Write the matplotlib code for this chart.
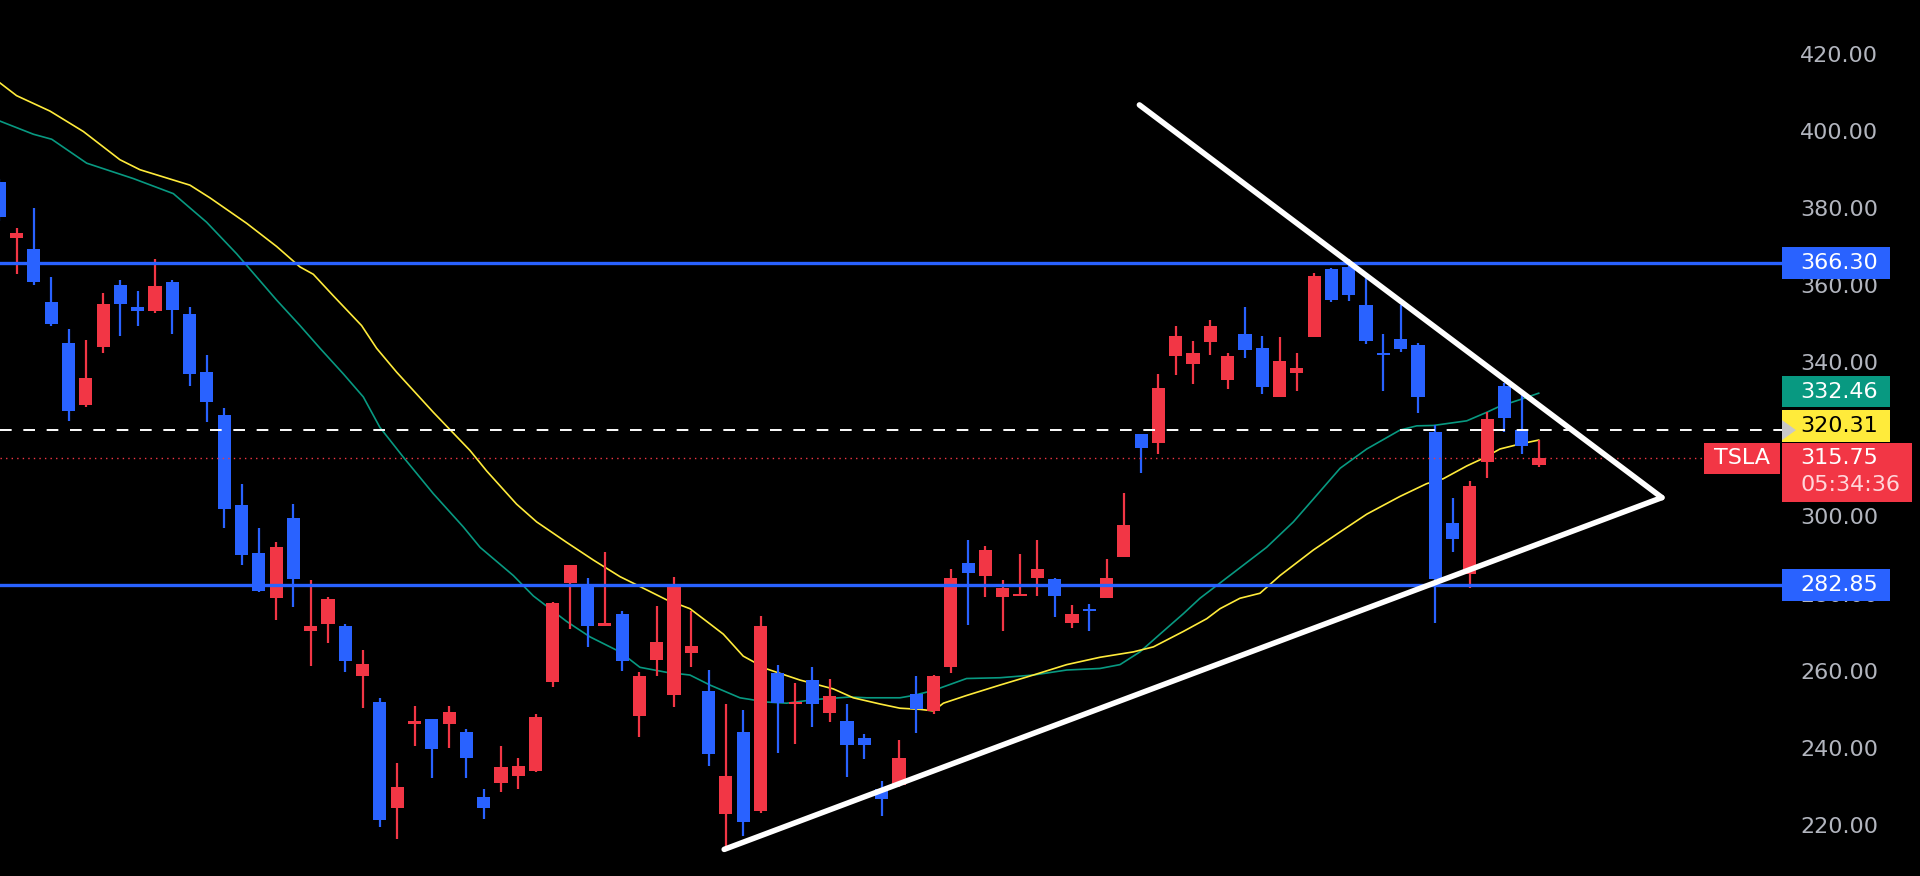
import matplotlib
matplotlib.use("Agg")
import matplotlib.pyplot as plt
import matplotlib.transforms as mtransforms
from matplotlib.patches import Rectangle, Polygon

# daily candles, index 0 is the half-visible one at the left edge
# red = up day, blue = down day (chart uses inverted colours)
opens = [387.1, 372.8, 369.9, 356.0, 345.4, 329.3, 344.5, 360.6, 354.8, 353.7,
         361.3, 353.1, 337.9, 326.9, 303.5, 291.0, 279.3, 300.2, 270.7, 272.6,
         272.0, 259.1, 252.4, 225.0, 246.8, 247.9, 246.8, 244.6, 227.9, 231.4,
         233.1, 234.5, 257.7, 283.2, 282.6, 272.0, 275.3, 248.8, 263.4, 254.1,
         265.0, 255.2, 223.4, 244.7, 224.1, 259.8, 251.9, 258.1, 249.5, 247.4,
         243.1, 229.9, 231.0, 254.4, 250.1, 261.4, 288.5, 285.2, 279.6, 279.8,
         284.5, 284.3, 273.0, 276.6, 279.3, 290.0, 321.9, 319.6, 342.1, 340.1,
         345.8, 335.9, 347.8, 344.3, 331.5, 337.7, 347.1, 364.6, 365.2, 355.3,
         343.0, 346.5, 345.0, 322.5, 298.7, 285.6, 314.6, 334.4, 322.9, 313.9]
highs = [388.0, 375.2, 380.5, 362.6, 349.1, 346.3, 358.4, 361.9, 359.0, 367.2,
         361.9, 354.9, 342.4, 328.6, 309.0, 297.4, 293.8, 303.7, 284.1, 279.6,
         272.6, 266.0, 253.5, 236.7, 251.5, 247.9, 251.3, 245.3, 229.9, 241.0,
         237.8, 249.2, 278.3, 287.9, 284.5, 291.4, 275.9, 260.1, 277.3, 284.8,
         275.9, 260.7, 251.9, 250.4, 274.6, 262.1, 257.4, 261.4, 258.5, 251.9,
         244.2, 232.0, 242.6, 259.1, 259.4, 286.8, 294.5, 292.9, 284.1, 290.8,
         294.5, 284.5, 277.5, 277.7, 289.4, 306.6, 321.9, 337.5, 350.0, 346.1,
         351.4, 342.8, 354.9, 347.4, 347.0, 343.0, 363.5, 364.8, 367.2, 363.5,
         347.8, 355.3, 345.4, 324.2, 305.3, 309.7, 327.5, 335.2, 332.2, 320.3]
lows = [377.0, 363.3, 360.4, 350.0, 325.2, 328.9, 342.8, 347.4, 350.0, 353.3,
        347.8, 334.4, 324.9, 297.4, 287.9, 280.8, 273.6, 277.0, 261.7, 267.7,
        260.1, 250.8, 220.1, 216.8, 240.9, 232.7, 240.6, 232.7, 222.1, 229.2,
        229.9, 234.3, 256.4, 271.3, 266.7, 272.0, 260.5, 243.3, 259.1, 251.2,
        261.4, 235.9, 213.8, 217.7, 223.7, 239.3, 241.5, 245.9, 247.2, 233.0,
        237.6, 222.8, 230.3, 244.5, 249.2, 259.8, 272.4, 279.6, 270.9, 279.8,
        279.9, 274.4, 271.6, 270.9, 279.3, 290.0, 311.7, 316.7, 337.1, 334.8,
        342.4, 333.5, 341.7, 332.2, 331.5, 333.1, 347.1, 356.0, 356.3, 345.1,
        333.1, 343.2, 327.3, 273.0, 291.2, 281.9, 310.6, 322.5, 316.7, 313.4]
closes = [378.1, 374.1, 361.3, 350.4, 327.9, 336.4, 355.7, 355.6, 353.9, 360.2,
          354.0, 337.5, 330.2, 302.4, 290.5, 281.2, 292.7, 284.3, 272.0, 279.0,
          263.1, 262.3, 221.7, 230.3, 247.6, 240.2, 249.7, 237.8, 225.0, 235.5,
          235.9, 248.4, 278.1, 287.9, 272.0, 272.9, 263.1, 259.1, 268.0, 282.6,
          266.9, 238.9, 233.1, 221.3, 272.0, 252.1, 252.4, 251.9, 254.0, 241.3,
          241.2, 227.3, 237.8, 250.5, 259.1, 284.5, 285.9, 291.8, 281.9, 280.3,
          286.9, 279.9, 275.3, 275.9, 284.5, 298.2, 318.3, 333.8, 347.4, 342.8,
          350.0, 342.1, 343.7, 334.2, 340.8, 339.1, 362.9, 356.6, 358.0, 346.1,
          342.4, 343.8, 331.5, 284.3, 294.7, 308.4, 325.8, 326.0, 318.7, 315.75]

# moving averages (candle index, price)
ma_fast_x = [0.04, 1.0, 2.93, 4.86, 6.97, 8.13, 11.02, 12.18, 14.3, 16.03, 17.38,
             18.15, 19.31, 20.94, 21.81, 22.97, 25.09, 27.21, 28.17, 29.9, 31.06,
             32.79, 34.34, 35.88, 36.65, 38.57, 39.92, 40.89, 41.85, 43.0, 44.35,
             46.28, 48.21, 49.36, 50.9, 52.06, 53.22, 53.99, 54.57, 55.91, 57.84,
             59.77, 61.7, 63.62, 65.55, 66.71, 68.44, 69.79, 70.56, 71.71, 72.87,
             74.03, 75.95, 77.5, 79.04, 80.96, 82.5, 83.47, 84.82, 85.78, 86.74,
             87.9, 88.98]
ma_fast_y = [412.9, 409.6, 405.6, 400.3, 393.0, 390.4, 386.4, 383.1, 376.5, 370.5, 365.2,
             363.3, 357.7, 350.0, 344.1, 337.9, 327.5, 317.6, 312.3, 303.7, 299.1,
             293.8, 289.2, 284.9, 283.2, 278.9, 276.6, 273.3, 270.0, 264.3, 261.0,
             258.1, 255.8, 253.5, 251.9, 250.8, 250.5, 250.1, 252.1, 254.1, 256.8,
             259.4, 262.1, 264.0, 265.4, 266.7, 270.7, 274.0, 276.6, 279.3, 280.6,
             285.2, 291.8, 296.5, 301.1, 305.7, 309.0, 310.3, 313.6, 315.6, 318.0,
             319.3, 320.31]
ma_slow_x = [0.04, 1.97, 3.03, 5.05, 7.75, 10.06, 11.98, 13.72, 16.03, 17.38, 18.54,
             19.88, 21.04, 22.0, 23.35, 25.09, 26.82, 27.79, 29.71, 30.87, 32.79,
             34.14, 35.88, 37.03, 38.57, 39.92, 41.08, 42.81, 44.35, 45.51, 47.25,
             49.17, 50.14, 52.06, 52.83, 53.99, 55.91, 57.84, 59.77, 61.7, 63.62,
             64.78, 65.93, 67.09, 68.44, 69.4, 71.33, 73.25, 74.8, 75.95, 77.5,
             79.04, 80.96, 81.93, 82.89, 84.82, 85.97, 86.74, 87.9, 88.98]
ma_slow_y = [403.0, 399.6, 398.3, 392.1, 388.1, 384.2, 376.8, 368.6, 356.6, 350.0, 344.1,
             337.5, 331.5, 323.6, 315.9, 306.4, 297.8, 292.5, 285.2, 279.9, 273.3,
             269.3, 265.4, 261.4, 260.1, 259.4, 256.8, 253.5, 252.4, 252.1, 253.1,
             253.7, 253.5, 253.5, 254.1, 255.4, 258.5, 258.7, 259.4, 260.7, 261.1,
             262.1, 265.4, 270.0, 275.3, 279.3, 285.9, 292.5, 299.1, 305.0, 313.0,
             318.0, 322.9, 324.0, 324.1, 325.3, 327.5, 329.1, 330.8, 332.46]

# triangle drawing (candle index, price)
tri_lower = [(41.9, 214.2), (96.1, 305.4)]
tri_upper = [(65.9, 407.2), (96.1, 305.4)]

levels = [366.30, 282.85]
prev_close = 322.9
last_price = 315.75
ma_fast_last = 320.31
ma_slow_last = 332.46
countdown = "05:34:36"
ticker = "TSLA"
# 320 is hidden behind the price tags in the reference
yticks = [420, 400, 380, 360, 340, 300, 280, 260, 240, 220]

BLUE = "#2962ff"
RED = "#f23645"
TEAL = "#089981"
YELLOW = "#ffeb3b"
GREY = "#b2b5be"

fig = plt.figure(figsize=(19.2, 8.76), dpi=100, facecolor="black")
ax = fig.add_axes([0, 0, 1, 1])
ax.set_facecolor("black")
ax.set_xlim(0.04, 111.02)
ax.set_ylim(207.3, 434.4)
ax.axis("off")
trans = mtransforms.blended_transform_factory(ax.transAxes, ax.transData)
plot_right = 1782 / 1920

# moving averages
ax.plot(ma_slow_x, ma_slow_y, color=TEAL, lw=1.2, zorder=2)
ax.plot(ma_fast_x, ma_fast_y, color=YELLOW, lw=1.2, zorder=2)

# candles
idx = list(range(len(opens)))
cols = [RED if c >= o else BLUE for o, c in zip(opens, closes)]
bottoms = [min(o, c) for o, c in zip(opens, closes)]
heights = [max(abs(c - o), 0.6) for o, c in zip(opens, closes)]
ax.vlines(idx, lows, highs, colors=cols, lw=1.6, zorder=3)
ax.bar(idx, heights, bottom=bottoms, width=0.76, color=cols, zorder=4)

# horizontal levels and price lines
for lv in levels:
    ax.axhline(lv, xmax=plot_right, color=BLUE, lw=2.4, zorder=5)
ax.axhline(prev_close, xmax=plot_right, color="white", lw=1.4,
           ls=(0, (6, 6)), zorder=5)
ax.axhline(last_price, xmax=1704 / 1920, color=RED, lw=1.0,
           ls=(0, (1, 3)), zorder=5)

# triangle
for seg in (tri_lower, tri_upper):
    xs, ys = zip(*seg)
    ax.plot(xs, ys, color="white", lw=4, solid_capstyle="round", zorder=6)

# price scale
label_x = 1800 / 1920
for t in yticks:
    ax.text(label_x, t, f"{t:.2f}", transform=trans, color=GREY,
            fontsize=16, ha="left", va="center", zorder=7)

box_w = 108 / 1920


def tag(y, h, color, text, tcolor="white", width=box_w):
    ax.add_patch(Rectangle((plot_right, y - h / 2), width, h, transform=trans,
                           facecolor=color, edgecolor="none", zorder=8))
    if text:
        ax.text(label_x, y, text, transform=trans, color=tcolor, fontsize=16,
                ha="left", va="center", zorder=9)


for lv in levels:
    tag(lv, 8.3, BLUE, f"{lv:.2f}")
tag(332.8, 8.0, TEAL, f"{ma_slow_last:.2f}")
tag(324.05, 8.3, YELLOW, f"{ma_fast_last:.2f}", tcolor="black")
ax.add_patch(Polygon([(plot_right, prev_close + 2.6), (plot_right, prev_close - 2.6),
                      (plot_right + 14 / 1920, prev_close)], closed=True,
                     transform=trans, facecolor="#c8c8c8", edgecolor="none",
                     zorder=9))
ax.add_patch(Rectangle((plot_right, 304.25), 130 / 1920, 15.35, transform=trans,
                       facecolor=RED, edgecolor="none", zorder=8))
ax.text(label_x, last_price, f"{last_price:.2f}", transform=trans, color="white",
        fontsize=16, ha="left", va="center", zorder=9)
ax.text(label_x, 308.6, countdown, transform=trans, color="#ffd6da",
        fontsize=16, ha="left", va="center", zorder=9)
ax.add_patch(Rectangle((1704 / 1920, 311.4), 76 / 1920, 8.2, transform=trans,
                       facecolor=RED, edgecolor="none", zorder=8))
ax.text(1742 / 1920, 315.6, ticker, transform=trans, color="white",
        fontsize=16, ha="center", va="center", zorder=9)

fig.savefig("out.png", dpi=100, facecolor="black")
